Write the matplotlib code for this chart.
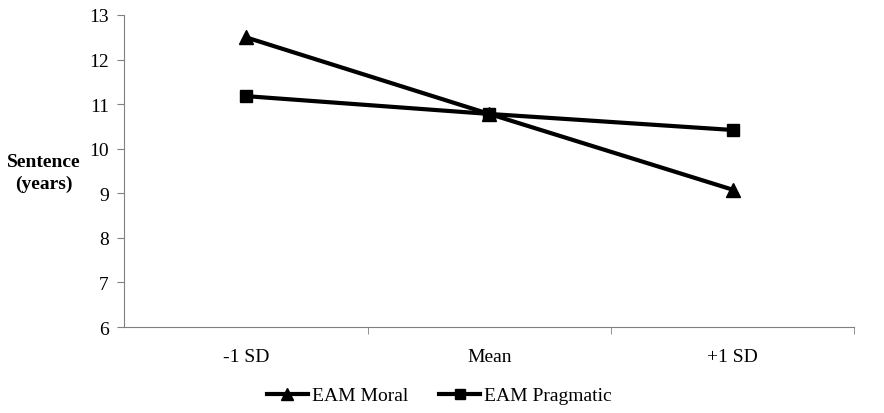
import numpy as np
import matplotlib.pyplot as plt

plt.rcParams['font.family'] = ['Liberation Serif', 'DejaVu Serif']

categories = ["-1 SD", "Mean", "+1 SD"]
moral = [12.5, 10.78, 9.08]
pragmatic = [11.18, 10.78, 10.42]

fig = plt.figure(figsize=(8.84, 4.14), dpi=100)
ax = fig.add_axes([0.1403, 0.2077, 0.8263, 0.7537])

x = np.arange(len(categories))
ax.plot(x, moral, color="black", lw=3, marker="^", ms=10, label="EAM Moral")
ax.plot(x, pragmatic, color="black", lw=3, marker="s", ms=8, label="EAM Pragmatic")

ax.set_xlim(-0.5, 2.5)
ax.set_ylim(6, 13)
ax.set_yticks(range(6, 14))
ax.set_xticks(x)
ax.set_xticklabels(categories)
ax.set_xticks([0.5, 1.5, 2.5], minor=True)
ax.tick_params(axis="x", which="major", length=0, pad=15, labelsize=14)
ax.tick_params(axis="x", which="minor", length=5, direction="out", color="#808080")
ax.tick_params(axis="y", length=5, color="#808080", labelsize=14, pad=6)

for s in ["top", "right"]:
    ax.spines[s].set_visible(False)
for s in ["left", "bottom"]:
    ax.spines[s].set_color("#808080")

ax.set_ylabel("Sentence\n(years)", rotation=0, fontweight="bold", fontsize=14,
              ha="center", va="center", labelpad=0, linespacing=1.4)
ax.yaxis.set_label_coords(-0.11, 0.495)

fig.legend(loc="center", bbox_to_anchor=(0.497, 0.042), ncol=2, frameon=False,
           fontsize=14, handlelength=2.1, columnspacing=1.6, handletextpad=0.2,
           markerscale=0.85)

fig.savefig("out.png", dpi=100)
